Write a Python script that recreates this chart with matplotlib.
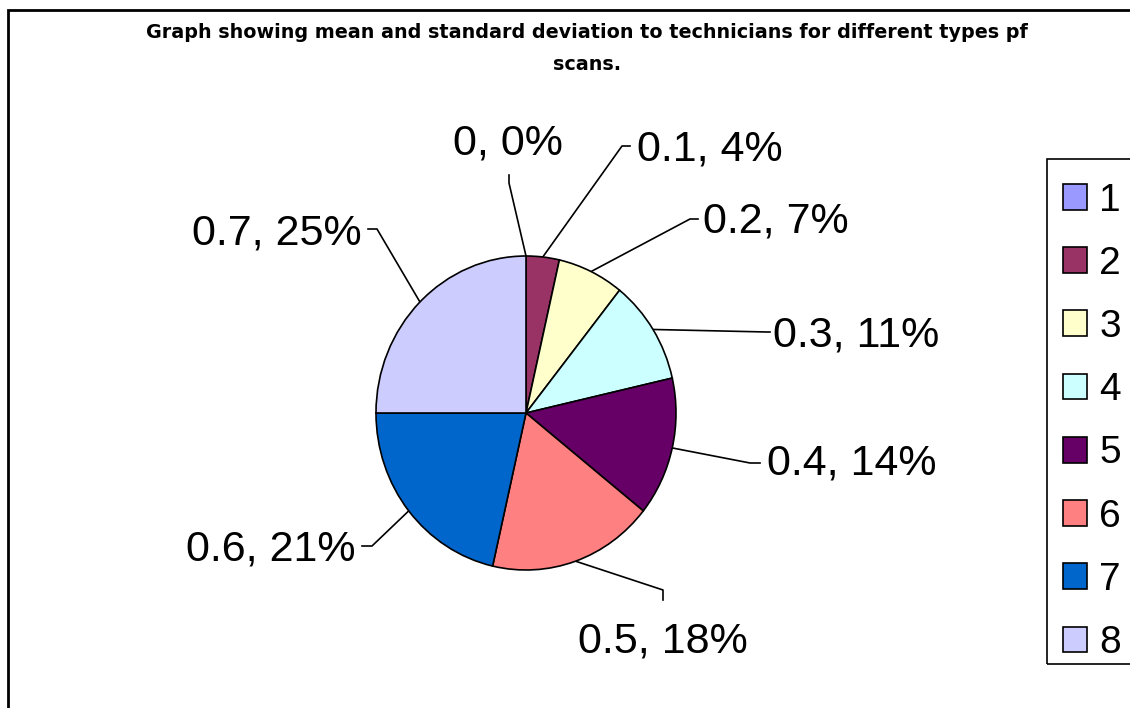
import numpy as np
import matplotlib
matplotlib.use("Agg")
import matplotlib.pyplot as plt
from matplotlib.patches import Rectangle

plt.rcParams['font.family'] = ['Liberation Sans', 'DejaVu Sans']

# values per scan type
categories = ['1', '2', '3', '4', '5', '6', '7', '8']
values = [0.0, 0.1, 0.2, 0.3, 0.4, 0.5, 0.6, 0.7]
colors = ['#9999FF', '#993366', '#FFFFCC', '#CCFFFF',
          '#660066', '#FF8080', '#0066CC', '#CCCCFF']

W, H = 1130, 708
fig = plt.figure(figsize=(W / 100, H / 100), dpi=100)
ax = fig.add_axes([0, 0, 1, 1])
ax.set_xlim(0, W)
ax.set_ylim(0, H)
ax.axis('off')

# pie sits in its own axes (pixel box, y measured from top)
cx, cy, rx, ry = 526, 413, 150, 157
pax = fig.add_axes([(cx - rx) / W, 1 - (cy + ry) / H, 2 * rx / W, 2 * ry / H])
wedges, _ = pax.pie(values, colors=colors, startangle=90, counterclock=False,
                    radius=1, wedgeprops=dict(edgecolor='black', linewidth=1.2))
pax.set_aspect('auto')
pax.set_xlim(-1, 1)
pax.set_ylim(-1, 1)
pax.axis('off')
for w in wedges:
    w.set_clip_on(False)

# leader line elbows, tick ends and text anchors (pixel coords, y down)
elbow = [(509, 183), (622, 146), (690, 219), (767, 332),
         (750, 463), (663, 590), (372, 546), (377, 229)]
tick = [(509, 175), (630, 146), (698, 219), (770, 332),
        (760, 463), (663, 600), (362, 546), (368, 229)]
text_pos = [(508, 144, 'center'), (637, 149, 'left'), (703, 221, 'left'),
            (773, 336, 'left'), (767, 464, 'left'), (663, 641, 'center'),
            (355, 549, 'right'), (362, 234, 'right')]

total = sum(values)
cum = 0.0
for i, v in enumerate(values):
    mid = 90 - (cum + v / 2) / total * 360
    cum += v
    sx = cx + rx * np.cos(np.radians(mid))
    sy = cy - ry * np.sin(np.radians(mid))
    ex, ey = elbow[i]
    tx, ty = tick[i]
    ax.plot([sx, ex, tx], [H - sy, H - ey, H - ty], color='black', lw=1.2)
    px, py, ha = text_pos[i]
    ax.text(px, H - py, f"{v:g}, {round(v / total * 100):.0f}%",
            fontsize=31, ha=ha, va='center')

fig.text(587 / W, 1 - 33 / H,
         'Graph showing mean and standard deviation to technicians for different types pf',
         ha='center', va='center', fontsize=13.8, fontweight='bold',
         family='DejaVu Sans')
fig.text(587 / W, 1 - 64 / H, 'scans.',
         ha='center', va='center', fontsize=13.8, fontweight='bold',
         family='DejaVu Sans')

leg = ax.legend(wedges, categories, loc='upper left',
                bbox_to_anchor=(1047 / W, 1 - 167 / H),
                bbox_transform=fig.transFigure, borderaxespad=0,
                fontsize=28, handlelength=0.64, handleheight=0.64,
                handletextpad=0.3, labelspacing=0.7, borderpad=0.4,
                frameon=False)

# legend box and outer chart border
ax.add_patch(Rectangle((1047, H - 664), 100, 505, fill=False,
                       edgecolor='black', lw=1.2, clip_on=False))
fig.patches.append(Rectangle((8 / W, -0.1), 1.2, 1 - 10 / H + 0.1,
                             transform=fig.transFigure, fill=False,
                             edgecolor='black', lw=2, clip_on=False))

fig.savefig('out.png', dpi=100, facecolor='white')
